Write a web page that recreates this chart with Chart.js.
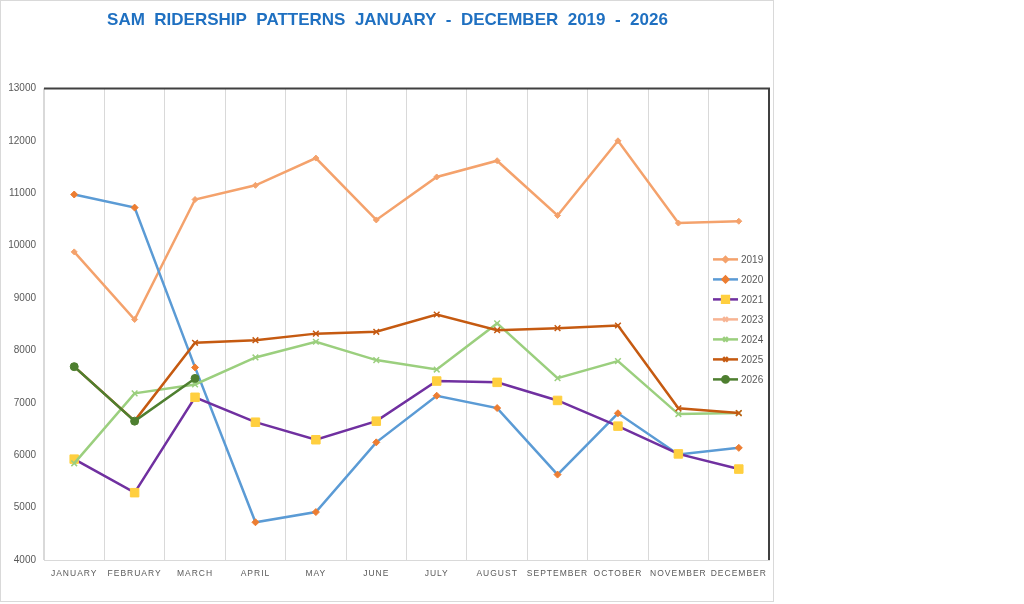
<!DOCTYPE html>
<html>
<head>
<meta charset="utf-8">
<script src="https://cdn.jsdelivr.net/npm/chart.js@4.4.1/dist/chart.umd.min.js"></script>
<style>
    body { margin: 0; background: #fff; }
    #box { position: absolute; left: 0; top: 0; width: 772px; height: 600px; border: 1px solid #d9d9d9; overflow: hidden; }
</style>
</head>
<body>
<div id="box"><canvas id="chartRidership" width="775" height="600"></canvas></div>
<script>
// SAM ridership, monthly, per year

const meses = ['JANUARY', 'FEBRUARY', 'MARCH', 'APRIL', 'MAY', 'JUNE', 'JULY',
    'AUGUST', 'SEPTEMBER', 'OCTOBER', 'NOVEMBER', 'DECEMBER'];

const anos = ['2019', '2020', '2021', '2023', '2024', '2025', '2026'];

const r2019 = [9880, 8590, 10880, 11150, 11670, 10490, 11310, 11620, 10575, 12000, 10430, 10465];
const r2020 = [10975, 10725, 7675, 4720, 4915, 6245, 7135, 6900, 5630, 6800, 6015, 6140];
const r2021 = [5925, 5285, 7105, 6630, 6295, 6650, 7415, 7390, 7045, 6555, 6025, 5735];
const r2023 = [];
const r2024 = [5845, 7180, 7350, 7865, 8165, 7815, 7635, 8515, 7470, 7795, 6785, 6805];
const r2025 = [7690, 6655, 8145, 8195, 8320, 8355, 8685, 8385, 8425, 8475, 6895, 6805];
const r2026 = [7690, 6650, 7465];

const yMin = 4000;
const yMax = 13000;
const yStep = 1000;

const serieEstilos = [
    { line: '#f4a26c', marker: '#f4a26c', style: 'rectRot', radius: 3 },
    { line: '#5b9bd5', marker: '#ed7d31', style: 'rectRot', radius: 3.5 },
    { line: '#7030a0', marker: '#ffcf3f', style: 'rect', radius: 6 },
    { line: '#f7b493', marker: '#f7b493', style: 'crossRot', radius: 4 },
    { line: '#9bcf7e', marker: '#9bcf7e', style: 'crossRot', radius: 4 },
    { line: '#c55a11', marker: '#c55a11', style: 'crossRot', radius: 4 },
    { line: '#4e7f30', marker: '#4e7f30', style: 'circle', radius: 4 }
];

const valores = [r2019, r2020, r2021, r2023, r2024, r2025, r2026];

// legend drawn inside the plot, like the spreadsheet one
const legendaInterna = {
    id: 'legendaInterna',
    afterDatasetsDraw(chart) {
        const { ctx, chartArea } = chart;
        ctx.save();
        chart.data.datasets.forEach((ds, i) => {
            const y = chartArea.top + 171 + i * 20;
            const x0 = chartArea.right - 56;
            ctx.strokeStyle = ds.borderColor;
            ctx.lineWidth = 2.5;
            ctx.beginPath();
            ctx.moveTo(x0, y);
            ctx.lineTo(x0 + 25, y);
            ctx.stroke();
            ctx.fillStyle = ds.pointBackgroundColor;
            ctx.strokeStyle = ds.pointBorderColor;
            Chart.helpers.drawPoint(ctx, {
                pointStyle: ds.pointStyle,
                radius: ds.pointRadius * 0.8,
                rotation: 0,
                borderWidth: ds.pointBorderWidth
            }, x0 + 12.5, y);
            ctx.fillStyle = '#595959';
            ctx.font = '10px "Liberation Sans"';
            ctx.textAlign = 'left';
            ctx.textBaseline = 'middle';
            ctx.fillText(ds.label, x0 + 28, y + 0.5);
        });
        ctx.restore();
    },
    afterDraw(chart) {
        const { ctx, chartArea } = chart;
        ctx.save();
        ctx.strokeStyle = '#404040';
        ctx.lineWidth = 2;
        ctx.beginPath();
        ctx.moveTo(chartArea.left, chartArea.top);
        ctx.lineTo(chartArea.right, chartArea.top);
        ctx.lineTo(chartArea.right, chartArea.bottom);
        ctx.stroke();
        ctx.restore();
    }
};

// spaced-out month labels
const espacoMeses = {
    id: 'espacoMeses',
    beforeDraw(chart) {
        const sc = chart.scales.x;
        if (sc._espacado) return;
        const orig = sc.drawLabels.bind(sc);
        sc.drawLabels = function (area) {
            const ctx = chart.ctx;
            ctx.save();
            ctx.letterSpacing = '1px';
            orig(area);
            ctx.restore();
        };
        sc._espacado = true;
    }
};

function montarDatasets() {
    return anos.map((ano, i) => {
        const e = serieEstilos[i];
        const cross = e.style === 'crossRot';
        return {
            label: ano,
            data: valores[i],
            borderColor: e.line,
            borderWidth: 2.5,
            pointStyle: e.style,
            pointRadius: e.radius,
            pointBackgroundColor: e.marker,
            pointBorderColor: e.marker,
            pointBorderWidth: cross ? 1.5 : 1,
            pointHoverRadius: e.radius,
            tension: 0,
            fill: false,
            order: anos.length - i
        };
    });
}

const ctx = document.getElementById('chartRidership');

new Chart(ctx, {
    type: 'line',
    data: {
        labels: meses,
        datasets: montarDatasets()
    },
    plugins: [legendaInterna, espacoMeses],
    options: {
        responsive: false,
        animation: false,
        layout: { padding: { left: 0, right: 2, top: 0, bottom: 0 } },
        plugins: {
            legend: { display: false },
            tooltip: { enabled: false },
            title: {
                display: true,
                text: 'SAM  RIDERSHIP  PATTERNS  JANUARY  -  DECEMBER  2019  -  2026',
                color: '#1f70c1',
                font: { family: 'Liberation Sans', size: 17, weight: 'bold' },
                padding: { top: 9, bottom: 58 }
            }
        },
        scales: {
            x: {
                offset: true,
                grid: { color: '#d9d9d9', offset: true, drawTicks: false },
                border: { color: '#d9d9d9' },
                ticks: {
                    color: '#595959',
                    font: { family: 'Liberation Sans', size: 8.5 },
                    padding: 9,
                    maxRotation: 0,
                    autoSkip: false
                },
                afterFit(scale) { scale.height = 41; }
            },
            y: {
                min: yMin,
                max: yMax,
                grid: { drawOnChartArea: false, drawTicks: false },
                border: { color: '#d9d9d9' },
                ticks: {
                    stepSize: yStep,
                    color: '#595959',
                    font: { family: 'Liberation Sans', size: 10 },
                    padding: 8,
                    callback: v => String(v)
                },
                afterFit(scale) { scale.width = 43; }
            }
        }
    }
});
</script>
</body>
</html>
